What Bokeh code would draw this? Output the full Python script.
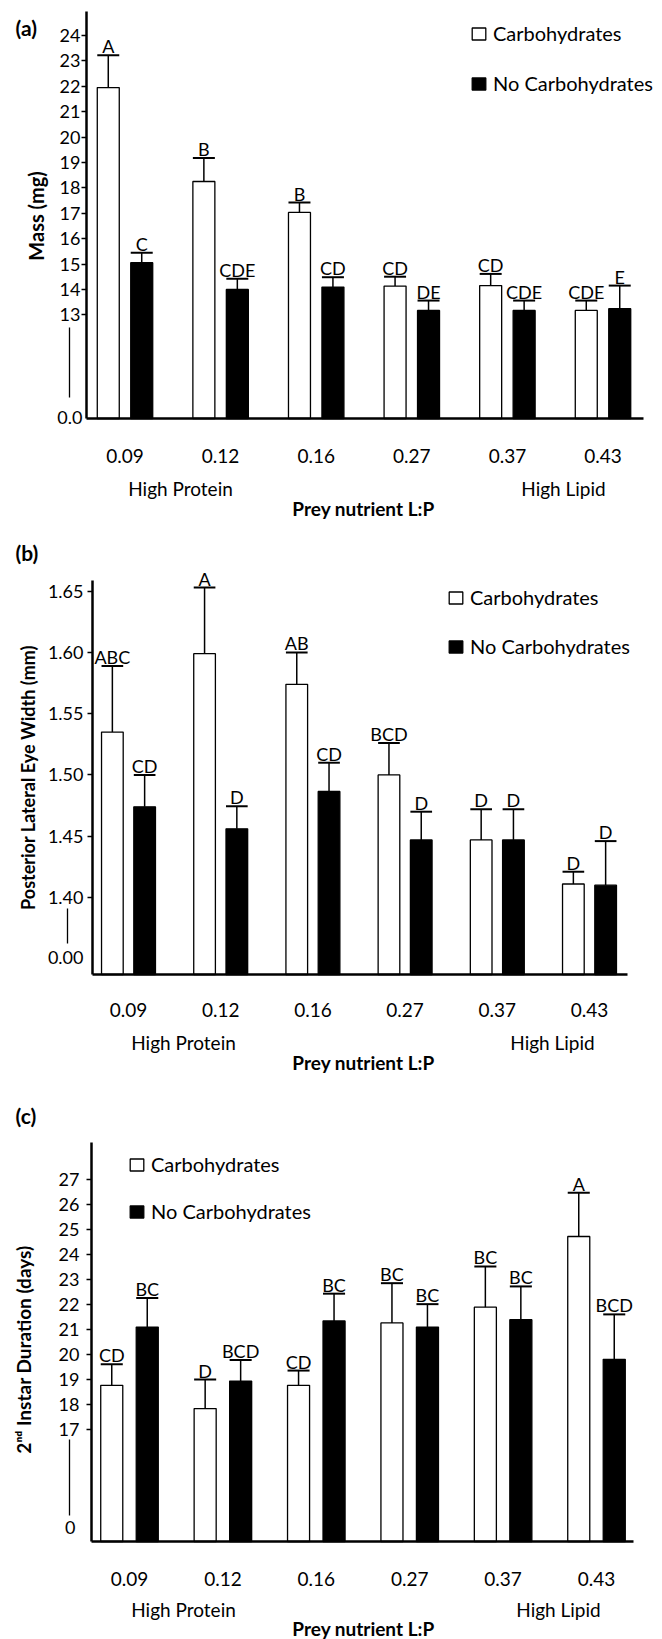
import math
import numpy as np
from bokeh.plotting import figure
from bokeh.models import (FixedTicker, Label, LabelSet, Arrow, Legend, LegendItem,
                          ColumnDataSource, Range1d, NumeralTickFormatter)
from bokeh.layouts import column
from bokeh.embed import file_html
from bokeh.resources import INLINE
from bokeh.core.properties import value

FONT = "Lato"

# ---------------- data ----------------
lp_labels = ["0.09", "0.12", "0.16", "0.27", "0.37", "0.43"]
series_names = ["Carbohydrates", "No Carbohydrates"]
x_title = "Prey nutrient L:P"

mass_carb = [21.95, 18.25, 17.03, 14.13, 14.15, 13.17]
mass_carb_se = [1.27, 0.93, 0.39, 0.37, 0.46, 0.39]
mass_nocarb = [15.05, 14.00, 14.09, 13.17, 13.17, 13.24]
mass_nocarb_se = [0.39, 0.42, 0.39, 0.39, 0.39, 0.91]
mass_carb_letters = ["A", "B", "B", "CD", "CD", "CDE"]
mass_nocarb_letters = ["C", "CDE", "CD", "DE", "CDE", "E"]
mass_ticks = [13, 14, 15, 16, 17, 18, 19, 20, 21, 22, 23, 24]

eye_carb = [1.535, 1.599, 1.574, 1.500, 1.447, 1.411]
eye_carb_se = [0.054, 0.054, 0.026, 0.026, 0.025, 0.010]
eye_nocarb = [1.474, 1.456, 1.4865, 1.447, 1.447, 1.410]
eye_nocarb_se = [0.026, 0.0185, 0.0235, 0.023, 0.025, 0.036]
eye_carb_letters = ["ABC", "A", "AB", "BCD", "D", "D"]
eye_nocarb_letters = ["CD", "D", "CD", "D", "D", "D"]
eye_ticks = [1.40, 1.45, 1.50, 1.55, 1.60, 1.65]

dur_carb = [18.77, 17.84, 18.77, 21.27, 21.90, 24.73]
dur_carb_se = [0.84, 1.16, 0.59, 1.59, 1.63, 1.75]
dur_nocarb = [21.10, 18.94, 21.35, 21.10, 21.40, 19.81]
dur_nocarb_se = [1.17, 0.84, 1.09, 0.92, 1.33, 1.80]
dur_carb_letters = ["CD", "D", "CD", "BC", "BC", "A"]
dur_nocarb_letters = ["BC", "BCD", "BC", "BC", "BC", "BCD"]
dur_ticks = [17, 18, 19, 20, 21, 22, 23, 24, 25, 26, 27]

# ---------------- layout (page pixels; Bokeh page has no body margin) ----------------
W = 662
GEOM = {
    "a": dict(fig_top=0, fig_h=530, frame=(86, 643, 11, 418), y_ref_val=24, y_ref_px=35,
              y_ppu=25.39, x_ref_px=124.5, x_ppg=95.6, off=0.175, bw=0.23,
              tag_px=(15, 27), zero_px=(82, 416.7), brk=(69, 327, 397),
              hp_px=(180, 488), hl_px=(563, 488), xt_px=(363, 508),
              yt_px=(35, 213), yt_size="20px", ytick_standoff=1,
              xs1=30, leg=(470, 21, 26)),
    "b": dict(fig_top=530, fig_h=560, frame=(92, 627, 580, 974), y_ref_val=1.65, y_ref_px=590.7,
              y_ppu=1225.0, x_ref_px=128, x_ppg=92.2, off=0.175, bw=0.235,
              tag_px=(15, 552), zero_px=(83, 957.3), brk=(67, 908, 943),
              hp_px=(183, 1042), hl_px=(552, 1042), xt_px=(363, 1062),
              yt_px=(27, 777), yt_size="18px", ytick_standoff=4,
              xs1=28, leg=(447, 585, 25)),
    "c": dict(fig_top=1090, fig_h=549, frame=(91, 633, 1142, 1541), y_ref_val=27, y_ref_px=1179.3,
              y_ppu=24.97, x_ref_px=129, x_ppg=93.4, off=0.19, bw=0.236,
              tag_px=(15, 1115), zero_px=(75, 1527), brk=(69, 1439, 1515),
              hp_px=(183, 1609), hl_px=(558, 1609), xt_px=(363, 1628),
              yt_px=(23, 1349), yt_size="19px", ytick_standoff=7,
              xs1=30, leg=(128, 1152, 23)),
}


def make_panel(key, carb, carb_se, nocarb, nocarb_se, carb_let, nocarb_let,
               ticks, fmt, zero_text, ylabel, tag):
    g = GEOM[key]
    fl, fr, ft, fb = g["frame"]
    top_pg = g["fig_top"]
    bot_pg = g["fig_top"] + g["fig_h"]

    def y_of(px):
        return g["y_ref_val"] + (g["y_ref_px"] - px) / g["y_ppu"]

    def x_of(px):
        return 1 + (px - g["x_ref_px"]) / g["x_ppg"]

    p = figure(width=W, height=g["fig_h"], output_backend="svg", toolbar_location=None,
               x_range=Range1d(x_of(0), x_of(W)), y_range=Range1d(y_of(bot_pg), y_of(top_pg)),
               min_border=0, min_border_left=0, min_border_right=0,
               min_border_top=0, min_border_bottom=0)
    p.outline_line_color = None
    p.grid.visible = False
    p.background_fill_color = "white"

    xs = np.arange(1, len(lp_labels) + 1, dtype=float)
    off, bw = g["off"], g["bw"]
    carb = np.array(carb); nocarb = np.array(nocarb)
    src = ColumnDataSource(dict(
        x_c=xs - off, x_n=xs + off,
        x_cl=xs - off - bw / 2, x_cr=xs - off + bw / 2,
        x_nl=xs + off - bw / 2, x_nr=xs + off + bw / 2,
        carb=carb, nocarb=nocarb,
        carb_cap=carb + np.array(carb_se), nocarb_cap=nocarb + np.array(nocarb_se),
        carb_let=carb_let, nocarb_let=nocarb_let,
    ))
    base = y_of(fb)
    rc = p.vbar(x="x_c", top="carb", bottom=base, width=bw, fill_color="white",
                line_color="black", line_width=1.3, source=src)
    rn = p.vbar(x="x_n", top="nocarb", bottom=base, width=bw, fill_color="black",
                line_color="black", line_width=1.3, source=src)
    for xc, top, cap, xl, xr in (("x_c", "carb", "carb_cap", "x_cl", "x_cr"),
                                 ("x_n", "nocarb", "nocarb_cap", "x_nl", "x_nr")):
        p.segment(x0=xc, x1=xc, y0=top, y1=cap, line_color="black", line_width=1.5, source=src)
        p.segment(x0=xl, x1=xr, y0=cap, y1=cap, line_color="black", line_width=2, source=src)

    for xc, cap, let in (("x_c", "carb_cap", "carb_let"), ("x_n", "nocarb_cap", "nocarb_let")):
        p.add_layout(LabelSet(x=xc, y=cap, text=let, source=src, text_align="center",
                              text_baseline="alphabetic", y_offset=2, text_font=value(FONT),
                              text_font_size=value("18px"), text_color="black"))

    # y axis, fixed at the frame's left edge
    yax = p.yaxis[0]
    yax.fixed_location = x_of(fl)
    yax.bounds = (y_of(fb), y_of(ft))
    yax.ticker = FixedTicker(ticks=ticks)
    if fmt:
        yax.formatter = NumeralTickFormatter(format=fmt)
    yax.axis_line_width = 2.5
    yax.axis_line_color = "black"
    yax.major_tick_line_width = 1.5
    yax.major_tick_line_color = "black"
    yax.major_tick_out = 5
    yax.major_tick_in = 0
    yax.minor_tick_line_color = None
    yax.major_label_text_font = FONT
    yax.major_label_text_font_size = "18px"
    yax.major_label_text_color = "black"
    yax.major_label_standoff = g["ytick_standoff"]

    # x axis, fixed at the baseline
    xax = p.xaxis[0]
    xax.fixed_location = y_of(fb)
    xax.bounds = (x_of(fl), x_of(fr))
    xax.ticker = FixedTicker(ticks=list(xs))
    xax.major_label_overrides = {float(i + 1): lab for i, lab in enumerate(lp_labels)}
    xax.axis_line_width = 2.5
    xax.axis_line_color = "black"
    xax.major_tick_line_color = None
    xax.major_tick_out = 0
    xax.major_tick_in = 0
    xax.minor_tick_line_color = None
    xax.major_label_text_font = FONT
    xax.major_label_text_font_size = "19px"
    xax.major_label_text_color = "black"
    xax.major_label_standoff = g["xs1"]

    # axis titles
    ytx, yty = g["yt_px"]
    p.add_layout(Label(x=x_of(ytx), y=y_of(yty), text=ylabel, angle=math.pi / 2,
                       text_align="center", text_baseline="middle", text_font=FONT,
                       text_font_style="bold", text_font_size=g["yt_size"], text_color="black"))
    xtx, xty = g["xt_px"]
    p.add_layout(Label(x=x_of(xtx), y=y_of(xty), text=x_title, text_align="center",
                       text_baseline="middle", text_font=FONT, text_font_style="bold",
                       text_font_size="19px", text_color="black"))

    # broken-axis marks
    zx, zy = g["zero_px"]
    p.add_layout(Label(x=x_of(zx), y=y_of(zy), text=zero_text, text_align="right",
                       text_baseline="middle", text_font=FONT, text_font_size="18px",
                       text_color="black"))
    bx, by0, by1 = g["brk"]
    p.add_layout(Arrow(end=None, x_start=x_of(bx), y_start=y_of(by0), x_end=x_of(bx),
                       y_end=y_of(by1), line_color="black", line_width=1.3))

    # panel tag and range descriptors
    tx, ty = g["tag_px"]
    p.add_layout(Label(x=x_of(tx), y=y_of(ty), text=tag, text_align="left",
                       text_baseline="middle", text_font=FONT, text_font_style="bold",
                       text_font_size="21px", text_color="black"))
    for (hx, hy), txt in ((g["hp_px"], "High Protein"), (g["hl_px"], "High Lipid")):
        p.add_layout(Label(x=x_of(hx), y=y_of(hy), text=txt, text_align="center",
                           text_baseline="middle", text_font=FONT, text_font_size="19px",
                           text_color="black"))

    # legend
    lx, ly, spacing = g["leg"]
    item_h = 24
    leg_h = 2 * item_h + spacing
    legend = Legend(items=[LegendItem(label=series_names[0], renderers=[rc]),
                           LegendItem(label=series_names[1], renderers=[rn])],
                    location=(lx, bot_pg - (ly + leg_h)),
                    orientation="vertical", padding=0, margin=0, spacing=spacing,
                    glyph_width=17, glyph_height=15, label_height=item_h,
                    label_standoff=6, label_text_font=FONT, label_text_font_size="20px",
                    label_text_color="black", background_fill_alpha=0,
                    border_line_alpha=0)
    p.add_layout(legend)
    return p


pa = make_panel("a", mass_carb, mass_carb_se, mass_nocarb, mass_nocarb_se,
                mass_carb_letters, mass_nocarb_letters, mass_ticks, None, "0.0",
                "Mass  (mg)", "(a)")
pb = make_panel("b", eye_carb, eye_carb_se, eye_nocarb, eye_nocarb_se,
                eye_carb_letters, eye_nocarb_letters, eye_ticks, "0.00", "0.00",
                "Posterior Lateral Eye Width (mm)", "(b)")
pc = make_panel("c", dur_carb, dur_carb_se, dur_nocarb, dur_nocarb_se,
                dur_carb_letters, dur_nocarb_letters, dur_ticks, None, "0",
                "2\u207f\u1d48 Instar Duration (days)", "(c)")

layout = column(pa, pb, pc, spacing=0)
open("out.html", "w").write(file_html(layout, INLINE))
